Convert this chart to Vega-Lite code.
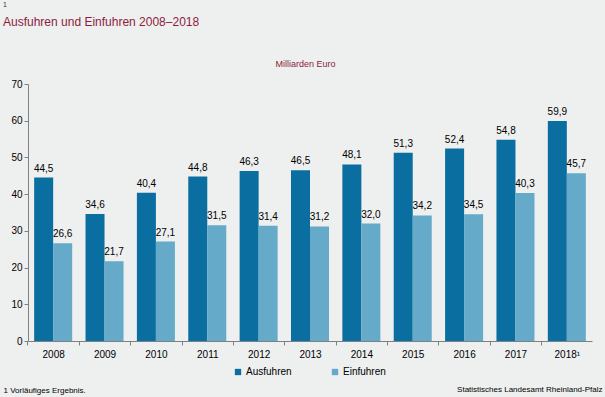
{
  "$schema": "https://vega.github.io/schema/vega-lite/v6.json",
  "width": 564,
  "height": 257,
  "autosize": {"type": "none"},
  "padding": {"left": 28, "top": 84, "right": 13, "bottom": 56},
  "background": "#eeefef",
  "config": {
    "view": {"stroke": null},
    "font": "Liberation Sans",
    "locale": {"number": {"decimal": ",", "thousands": ".", "grouping": [3], "currency": ["", " €"]}}
  },
  "title": {
    "text": "1",
    "subtitle": "Ausfuhren und Einfuhren 2008–2018",
    "anchor": "start",
    "frame": "group",
    "dx": -25,
    "fontSize": 7,
    "fontWeight": "normal",
    "color": "#333333",
    "subtitleColor": "#8c1d40",
    "subtitleFontSize": 12,
    "subtitlePadding": 9,
    "offset": 31
  },
  "data": {
    "values": [
      {"Jahr": "2008", "Art": "Ausfuhren", "Wert": 44.5},
      {"Jahr": "2009", "Art": "Ausfuhren", "Wert": 34.6},
      {"Jahr": "2010", "Art": "Ausfuhren", "Wert": 40.4},
      {"Jahr": "2011", "Art": "Ausfuhren", "Wert": 44.8},
      {"Jahr": "2012", "Art": "Ausfuhren", "Wert": 46.3},
      {"Jahr": "2013", "Art": "Ausfuhren", "Wert": 46.5},
      {"Jahr": "2014", "Art": "Ausfuhren", "Wert": 48.1},
      {"Jahr": "2015", "Art": "Ausfuhren", "Wert": 51.3},
      {"Jahr": "2016", "Art": "Ausfuhren", "Wert": 52.4},
      {"Jahr": "2017", "Art": "Ausfuhren", "Wert": 54.8},
      {"Jahr": "2018", "Art": "Ausfuhren", "Wert": 59.9},
      {"Jahr": "2008", "Art": "Einfuhren", "Wert": 26.6},
      {"Jahr": "2009", "Art": "Einfuhren", "Wert": 21.7},
      {"Jahr": "2010", "Art": "Einfuhren", "Wert": 27.1},
      {"Jahr": "2011", "Art": "Einfuhren", "Wert": 31.5},
      {"Jahr": "2012", "Art": "Einfuhren", "Wert": 31.4},
      {"Jahr": "2013", "Art": "Einfuhren", "Wert": 31.2},
      {"Jahr": "2014", "Art": "Einfuhren", "Wert": 32.0},
      {"Jahr": "2015", "Art": "Einfuhren", "Wert": 34.2},
      {"Jahr": "2016", "Art": "Einfuhren", "Wert": 34.5},
      {"Jahr": "2017", "Art": "Einfuhren", "Wert": 40.3},
      {"Jahr": "2018", "Art": "Einfuhren", "Wert": 45.7}
    ]
  },
  "encoding": {
    "x": {
      "field": "Jahr",
      "type": "nominal",
      "scale": {"paddingInner": 0.26, "paddingOuter": 0.12},
      "axis": {
        "labelAngle": 0,
        "labelFontSize": 10,
        "labelColor": "#000000",
        "labelPadding": 4,
        "labelExpr": "datum.label == '2018' ? '2018¹' : datum.label",
        "tickOffset": -25.7,
        "labelOffset": 25.7,
        "tickSize": 4,
        "tickColor": "#808080",
        "domainColor": "#808080",
        "title": "1 Vorläufiges Ergebnis.",
        "titleFontSize": 8,
        "titleFontWeight": "normal",
        "titleColor": "#000000",
        "titleAlign": "left",
        "titleAnchor": "start",
        "titleX": -25,
        "titleY": 49,
        "titleBaseline": "middle"
      }
    },
    "xOffset": {"field": "Art", "type": "nominal", "scale": {"paddingInner": 0, "paddingOuter": 0}},
    "y": {
      "field": "Wert",
      "type": "quantitative",
      "scale": {"domain": [0, 70], "nice": false}
    }
  },
  "layer": [
    {
      "mark": {"type": "bar"},
      "encoding": {
        "y": {
          "field": "Wert",
          "type": "quantitative",
          "scale": {"domain": [0, 70], "nice": false},
          "axis": {
            "values": [0, 10, 20, 30, 40, 50, 60, 70],
            "grid": false,
            "labelFontSize": 10,
            "labelColor": "#000000",
            "tickSize": 4,
            "tickColor": "#808080",
            "domainColor": "#808080",
            "title": "Milliarden Euro",
            "titleAngle": 0,
            "titleFontSize": 9,
            "titleFontWeight": "normal",
            "titleColor": "#8c1d40",
            "titleAlign": "center",
            "titleBaseline": "middle",
            "titleX": 277,
            "titleY": -21
          }
        },
        "color": {
          "field": "Art",
          "type": "nominal",
          "scale": {"domain": ["Ausfuhren", "Einfuhren"], "range": ["#0a6fa0", "#66aac9"]},
          "legend": {
            "orient": "none",
            "legendX": 205,
            "legendY": 283,
            "direction": "horizontal",
            "title": null,
            "symbolType": "square",
            "symbolSize": 40,
            "labelFontSize": 10,
            "labelColor": "#000000",
            "columnPadding": 38,
            "labelOffset": 3
          }
        }
      }
    },
    {
      "mark": {"type": "text", "baseline": "bottom", "dy": -4, "fontSize": 10, "color": "#000000"},
      "encoding": {
        "y": {
          "field": "Wert",
          "type": "quantitative",
          "scale": {"domain": [0, 70], "nice": false},
          "axis": {
            "orient": "right",
            "labels": false,
            "ticks": false,
            "domain": false,
            "grid": false,
            "title": "Statistisches Landesamt Rheinland-Pfalz",
            "titleAngle": 0,
            "titleFontSize": 8,
            "titleFontWeight": "normal",
            "titleColor": "#000000",
            "titleAlign": "right",
            "titleBaseline": "middle",
            "titleX": 10,
            "titleY": 305
          }
        },
        "text": {"field": "Wert", "type": "quantitative", "format": ".1f"}
      }
    }
  ],
  "resolve": {"axis": {"y": "independent"}}
}
